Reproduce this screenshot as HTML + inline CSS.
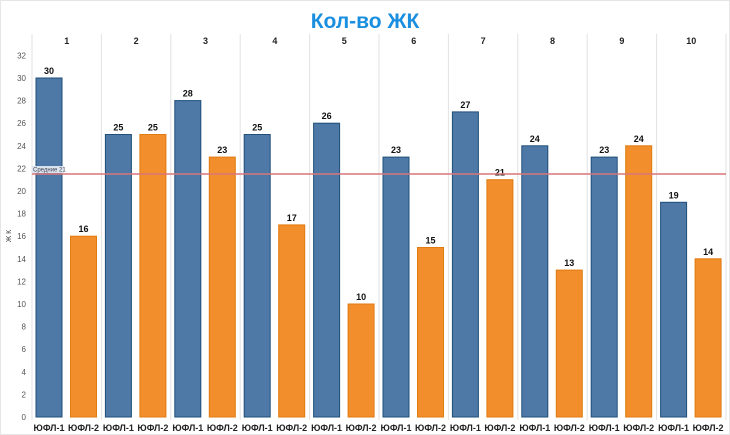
<!DOCTYPE html>
<html><head><meta charset="utf-8"><style>
body{margin:0;background:#fff;}
svg{display:block;font-family:"Liberation Sans","DejaVu Sans",sans-serif;}
</style></head><body>
<svg id="c" width="730" height="435">
<rect x="0.5" y="0.5" width="729" height="434" fill="#fff" stroke="#e6e6e6"/>
<text x="365" y="28" text-anchor="middle" font-size="21" font-weight="bold" fill="#1a8fe0">Кол-во ЖК</text>
<text x="11" y="236" font-size="7" fill="#333" text-anchor="middle" transform="rotate(-90 11 236)">Ж К</text>
<g id="g"></g>
</svg>
<script>
const groups=['1','2','3','4','5','6','7','8','9','10'];
const series1=[30,25,28,25,26,23,27,24,23,19];
const series2=[16,25,23,17,10,15,21,13,24,14];
const seriesNames=['ЮФЛ-1','ЮФЛ-2'];
const yTicks=[0,2,4,6,8,10,12,14,16,18,20,22,24,26,28,30,32];
const avgValue=21.5;
const avgLabel='Средние 21';
const NS='http://www.w3.org/2000/svg';
const g=document.getElementById('g');
const x0=32,x1=726,pw=(x1-x0)/groups.length;
const y=v=>417-v*11.3;
function el(t,a,txt){const e=document.createElementNS(NS,t);for(const k in a)e.setAttribute(k,a[k]);if(txt!=null)e.textContent=txt;g.appendChild(e);return e;}
yTicks.forEach(t=>{const e=el('text',{x:26,y:y(t)+3,'text-anchor':'end','font-size':8,fill:'#555'},t);

});
for(let i=0;i<=groups.length;i++){const e=el('line',{x1:x0+i*pw,x2:x0+i*pw,y1:34,y2:420,stroke:'#e2e2e2','stroke-width':1});

}
groups.forEach((gn,i)=>{
const px=x0+i*pw;
const h=el('text',{x:px+pw/2,y:44,'text-anchor':'middle','font-size':9,'font-weight':'bold',fill:'#222'},gn);


[[series1[i],'#4e79a7','#1f4e79',4],[series2[i],'#f28e2b','#e07b10',38.5]].forEach((s,j)=>{
const bx=px+s[3],bw=26;
const r=el('rect',{x:bx,y:y(s[0]),width:bw,height:y(0)-y(s[0]),fill:s[1],stroke:s[2],'stroke-width':1});


const l=el('text',{x:bx+bw/2,y:y(s[0])-4,'text-anchor':'middle','font-size':9,'font-weight':'bold',fill:'#111'},s[0]);


const c=el('text',{x:bx+bw/2,y:431,'text-anchor':'middle','font-size':9,'font-weight':'bold',fill:'#222'},seriesNames[j]);


});
});
const bg=el('rect',{x:32,y:y(avgValue)-8,width:32,height:7,fill:'#dde6f0'});


const al=el('text',{x:33,y:y(avgValue)-2.5,'font-size':6,fill:'#445'},avgLabel);


const ln=el('line',{x1:x0,x2:x1,y1:y(avgValue),y2:y(avgValue),stroke:'#d9777a','stroke-width':1.5});


</script>
</body></html>
